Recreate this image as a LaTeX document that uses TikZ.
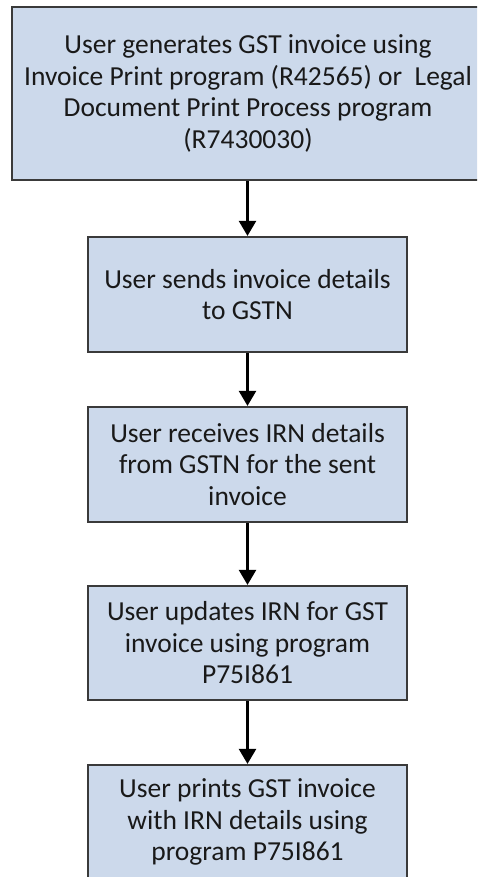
\documentclass[tikz,border=0pt]{standalone}
\usepackage{fontspec}
\setmainfont{Carlito}
\usetikzlibrary{arrows.meta}
\definecolor{boxfill}{HTML}{CCD9EB}
\definecolor{boxline}{HTML}{3A3A3A}
\tikzset{
  stepbox/.style={draw=boxline, fill=boxfill, line width=2.2pt, rectangle, inner sep=0pt,
    align=center, font=\fontsize{27.5}{31.5}\selectfont, text=black!90},
  flow/.style={draw=black, line width=2.4pt, -{Triangle[width=17pt,length=15pt]}}
}
\begin{document}
\begin{tikzpicture}[x=1pt,y=1pt]
\useasboundingbox (0,0) rectangle (477,-877);
\clip (0,0) rectangle (477,-877);
\node[stepbox, minimum width=472pt, minimum height=173pt] (b1) at (248,-93.5)
  {User generates GST invoice using\\ Invoice Print program (R42565) or~~Legal\\ Document Print Process program\\ (R7430030)};
\node[stepbox, minimum width=319pt, minimum height=115pt] (b2) at (247.5,-294.5)
  {User sends invoice details\\ to GSTN};
\node[stepbox, minimum width=319pt, minimum height=115pt] (b3) at (247.5,-464.5)
  {User receives IRN details\\ from GSTN for the sent\\ invoice};
\node[stepbox, minimum width=319pt, minimum height=114pt] (b4) at (247.5,-643)
  {User updates IRN for GST\\ invoice using program\\ P75I861};
\node[stepbox, minimum width=319pt, minimum height=114pt] (b5) at (247.5,-822)
  {User prints GST invoice\\ with IRN details using\\ program P75I861};
\draw[flow] (b1.south -| b2.north) -- (b2.north);
\draw[flow] (b2) -- (b3);
\draw[flow] (b3) -- (b4);
\draw[flow] (b4) -- (b5);
\end{tikzpicture}
\end{document}
